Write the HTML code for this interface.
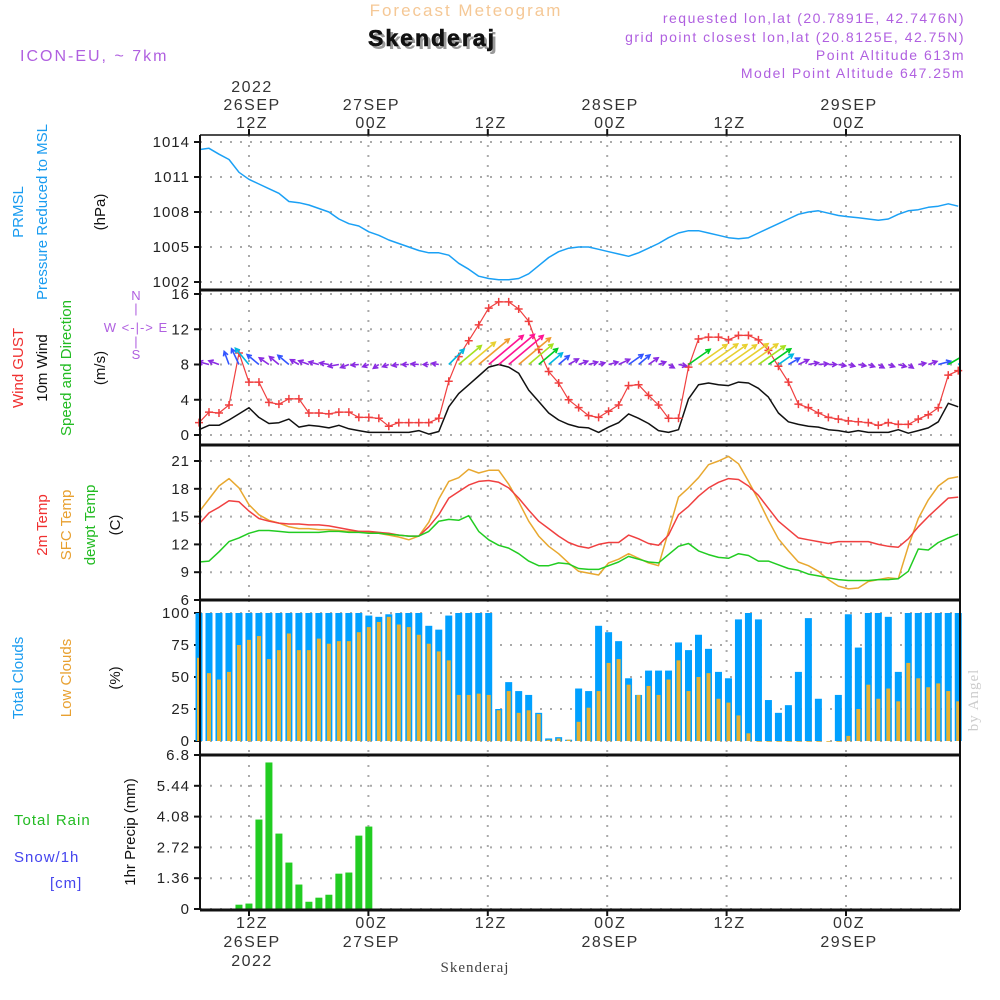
<!DOCTYPE html>
<html><head><meta charset="utf-8"><title>Skenderaj Meteogram</title>
<style>
html,body{margin:0;padding:0;background:#fff;}
svg{display:block;font-family:"Liberation Sans",sans-serif;}
</style></head>
<body>
<svg id="chart" width="1000" height="1000" viewBox="0 0 1000 1000" xmlns="http://www.w3.org/2000/svg">
  <defs>
    <clipPath id="windclip"><rect x="200" y="290" width="760" height="155"/></clipPath>
  </defs>
  <rect x="0" y="0" width="1000" height="1000" fill="#fff"/>
  <text x="466" y="16" text-anchor="middle" font-size="17" letter-spacing="2" fill="#f5c896">Forecast Meteogram</text>
  <text x="435" y="49" text-anchor="middle" font-size="23" font-weight="bold" letter-spacing="2" fill="#999">Skenderaj</text>
  <text x="432" y="46" text-anchor="middle" font-size="23" font-weight="bold" letter-spacing="2" fill="#111" stroke="#111" stroke-width="0.6">Skenderaj</text>
  <text x="20" y="61" font-size="16" letter-spacing="2" fill="#b060e0">ICON-EU, ~ 7km</text>
  <g font-size="14" letter-spacing="1.5" fill="#b060e0" text-anchor="end">
    <text x="965" y="23">requested lon,lat (20.7891E, 42.7476N)</text>
    <text x="965" y="42">grid point closest lon,lat (20.8125E, 42.75N)</text>
    <text x="965" y="60">Point Altitude 613m</text>
    <text x="965" y="78">Model Point Altitude 647.25m</text>
  </g>
  <text x="978" y="700" font-family="Liberation Serif,serif" font-size="15" fill="#ccc" transform="rotate(-90 978 700)" text-anchor="middle" letter-spacing="1">by Angel</text>
  <text x="475" y="972" text-anchor="middle" font-family="Liberation Serif,serif" font-size="15" letter-spacing="1" fill="#444">Skenderaj</text>

  <g font-size="15">
    <text transform="translate(23,212) rotate(-90)" text-anchor="middle" fill="#1a9cf0">PRMSL</text>
    <text transform="translate(47,212) rotate(-90)" text-anchor="middle" fill="#1a9cf0">Pressure Reduced to MSL</text>
    <text transform="translate(105,212) rotate(-90)" text-anchor="middle" fill="#111">(hPa)</text>
    <text transform="translate(23,368) rotate(-90)" text-anchor="middle" fill="#f03030">Wind GUST</text>
    <text transform="translate(47,368) rotate(-90)" text-anchor="middle" fill="#111">10m Wind</text>
    <text transform="translate(71,368) rotate(-90)" text-anchor="middle" fill="#22bb22">Speed and Direction</text>
    <text transform="translate(105,368) rotate(-90)" text-anchor="middle" fill="#111">(m/s)</text>
    <text transform="translate(47,525) rotate(-90)" text-anchor="middle" fill="#f03030">2m Temp</text>
    <text transform="translate(71,525) rotate(-90)" text-anchor="middle" fill="#e8a030">SFC Temp</text>
    <text transform="translate(95,525) rotate(-90)" text-anchor="middle" fill="#22bb22">dewpt Temp</text>
    <text transform="translate(120,525) rotate(-90)" text-anchor="middle" fill="#111">(C)</text>
    <text transform="translate(23,678) rotate(-90)" text-anchor="middle" fill="#1a9cf0">Total Clouds</text>
    <text transform="translate(71,678) rotate(-90)" text-anchor="middle" fill="#e8a030">Low Clouds</text>
    <text transform="translate(120,678) rotate(-90)" text-anchor="middle" fill="#111">(%)</text>
    <text transform="translate(135,832) rotate(-90)" text-anchor="middle" fill="#111">1hr Precip (mm)</text>
    <text x="14" y="825" fill="#22bb22" letter-spacing="1">Total  Rain</text>
    <text x="14" y="862" fill="#4444ee" letter-spacing="1">Snow/1h</text>
    <text x="50" y="888" fill="#4444ee" letter-spacing="1">[cm]</text>
  </g>
  <g font-size="13" fill="#b060e0" text-anchor="middle">
    <text x="136" y="300">N</text>
    <text x="136" y="313">|</text>
    <text x="136" y="332" letter-spacing="1">W &lt;-|-&gt; E</text>
    <text x="136" y="346">|</text>
    <text x="136" y="359">S</text>
  </g>
  <g id="plot"></g>
</svg>
<script>
const pressure = [1013.35,1013.46,1012.95,1012.5,1011.4,1010.8,1010.4,1010.0,1009.6,1008.9,1008.8,1008.6,1008.3,1008.0,1007.4,1007.0,1006.8,1006.3,1006.0,1005.6,1005.3,1005.0,1004.7,1004.5,1004.5,1004.3,1003.6,1003.1,1002.5,1002.3,1002.2,1002.2,1002.3,1002.7,1003.4,1004.1,1004.6,1004.9,1005.0,1005.0,1004.8,1004.6,1004.4,1004.2,1004.5,1004.9,1005.3,1005.8,1006.2,1006.4,1006.4,1006.2,1006.0,1005.8,1005.7,1005.8,1006.2,1006.6,1007.0,1007.4,1007.8,1008.0,1008.1,1007.9,1007.7,1007.6,1007.5,1007.4,1007.3,1007.4,1007.8,1008.1,1008.2,1008.4,1008.5,1008.7,1008.5];
const windGust = [1.4,2.6,2.5,3.4,9.3,6.0,6.0,3.7,3.5,4.1,4.1,2.5,2.5,2.4,2.6,2.6,2.0,2.0,1.9,1.0,1.4,1.4,1.4,1.4,1.9,6.1,8.9,10.7,12.5,14.4,15.1,15.1,14.3,12.9,9.7,7.2,5.9,4.0,3.1,2.2,2.0,2.7,3.4,5.6,5.7,4.5,3.4,1.9,1.9,7.7,10.9,11.1,11.1,10.8,11.3,11.3,10.8,9.6,7.8,6.0,3.5,3.1,2.5,2.0,1.8,1.6,1.5,1.4,1.1,1.4,1.2,1.2,1.8,2.3,3.1,6.8,7.3];
const wind10m = [0.6,1.1,1.1,1.7,2.4,3.1,2.0,1.3,1.4,1.8,0.9,1.1,1.0,0.8,1.1,0.7,0.5,0.3,0.3,0.3,0.3,0.3,0.5,0.1,0.4,3.2,4.7,5.7,6.7,7.7,8.0,7.7,7.0,5.1,3.8,2.5,1.7,1.2,0.9,0.8,0.3,0.9,1.4,2.4,1.9,1.3,0.5,0.3,0.6,4.1,5.7,5.9,5.7,5.6,6.0,5.9,5.3,4.3,2.5,1.5,1.2,1.0,0.9,0.6,0.5,0.3,0.5,0.3,0.3,0.3,0.6,0.2,0.5,0.8,1.5,3.6,3.2];
const windDir = [165,165,160,110,115,130,140,145,140,140,150,160,165,170,190,200,185,200,215,200,190,180,175,180,170,45,40,40,40,40,40,40,40,40,40,40,40,30,20,15,15,15,25,35,40,35,20,-30,-10,35,35,35,35,35,35,35,35,35,35,30,25,10,5,0,-10,-15,-10,-20,-30,-20,-15,-35,10,20,15,30,30];
const temp2m = [14.2,15.4,16.0,16.7,16.6,15.6,14.8,14.5,14.3,14.2,14.2,14.1,14.1,14.0,13.8,13.6,13.4,13.4,13.3,13.2,13.0,12.9,12.9,13.9,15.2,17.0,17.7,18.4,18.8,18.9,18.7,18.1,17.0,15.7,14.5,13.7,12.9,12.2,11.8,11.6,12.0,12.2,12.2,13.0,12.6,12.1,11.9,13.0,15.2,16.1,17.2,18.1,18.7,19.1,19.0,18.3,17.3,15.9,14.5,13.6,12.7,12.5,12.3,12.1,12.3,12.3,12.3,12.3,12.0,11.8,11.7,12.6,13.9,15.0,16.0,17.0,17.1];
const tempSfc = [15.5,16.9,18.3,19.1,18.1,16.3,15.2,14.6,14.3,13.9,13.7,13.7,13.6,13.6,13.5,13.4,13.4,13.3,13.2,13.0,12.8,12.5,12.9,14.4,16.9,18.8,19.2,20.1,19.7,20.0,20.0,18.5,16.6,14.5,12.9,11.8,11.0,10.0,9.1,8.9,8.7,10.0,10.4,11.0,10.5,10.0,9.7,13.4,17.1,18.1,19.2,20.6,21.0,21.5,20.7,18.8,16.8,14.6,12.6,11.3,10.1,9.7,9.1,8.2,7.5,7.2,7.3,8.0,8.2,8.4,8.3,11.8,14.8,16.8,18.3,19.1,19.3];
const dewpt = [10.1,10.2,11.2,12.3,12.7,13.2,13.5,13.5,13.4,13.3,13.3,13.3,13.3,13.4,13.4,13.3,13.3,13.2,13.2,13.1,13.0,12.9,12.9,13.4,14.5,14.7,14.6,15.1,13.4,12.5,11.9,11.6,11.0,10.2,9.7,9.7,10.0,9.9,9.4,9.3,9.3,9.7,10.1,10.7,10.4,10.1,10.0,10.9,11.8,12.1,11.3,10.9,10.6,10.5,11.0,10.8,10.2,10.2,9.8,9.4,9.2,8.8,8.6,8.4,8.2,8.1,8.1,8.1,8.2,8.2,8.3,9.1,11.5,11.4,12.2,12.7,13.1];
const totalClouds = [100,100,100,100,100,100,100,100,100,100,100,100,100,100,100,100,100,98,97,99,100,100,100,90,87,98,100,100,100,100,25,46,39,36,22,2,3,1,41,39,90,85,78,49,36,55,55,55,77,71,83,72,54,49,95,100,95,32,22,28,54,96,33,0,36,99,73,100,100,97,54,100,100,100,100,100,100];
const lowClouds = [65,53,48,54,75,79,82,64,71,84,71,71,80,76,78,78,85,89,93,97,91,89,83,76,70,63,36,36,37,36,24,39,22,24,21,1,2,1,15,26,39,61,64,44,36,43,36,48,63,39,50,53,33,30,20,6,0,0,0,0,0,0,0,0,0,4,25,44,33,41,31,61,49,42,45,39,31];
const precip = [0,0,0,0,0.19,0.24,3.95,6.47,3.33,2.05,1.08,0.32,0.50,0.63,1.56,1.61,3.24,3.64,0,0,0,0,0,0,0,0,0,0,0,0,0,0,0,0,0,0,0,0,0,0,0,0,0,0,0,0,0,0,0,0,0,0,0,0,0,0,0,0,0,0,0,0,0,0,0,0,0,0,0,0,0,0,0,0,0,0,0];
const pressureTicks = [1002,1005,1008,1011,1014];
const windTicks = [0,4,8,12,16];
const tempTicks = [6,9,12,15,18,21];
const cloudTicks = [0,25,50,75,100];
const precipTicks = [0,1.36,2.72,4.08,5.44,6.8];
const timeTicksHours = [12,24,36,48,60,72];
const topLabels = [["2022","26SEP","12Z"],["","27SEP","00Z"],["","","12Z"],["","28SEP","00Z"],["","","12Z"],["","29SEP","00Z"]];
const bottomLabels = [["12Z","26SEP","2022"],["00Z","27SEP",""],["12Z","",""],["00Z","28SEP",""],["12Z","",""],["00Z","29SEP",""]];

const NS = "http://www.w3.org/2000/svg";
const plot = document.getElementById('plot');
const X0 = 200, X1 = 960;
function xi(i){ return 199 + i*9.99; }
function xt(h){ return 249 + (h-12)*9.95; }
function lin(vMin,vMax,yMin,yMax){ return v => yMin + (v-vMin)*(yMax-yMin)/(vMax-vMin); }
const panels = {
  pres:{top:135,bot:290,y:lin(1002,1014,282,142)},
  wind:{top:290,bot:445,y:lin(0,16,435,294)},
  temp:{top:445,bot:600,y:lin(6,21,600,461)},
  cloud:{top:600,bot:755,y:lin(0,100,741,613)},
  prec:{top:755,bot:910,y:lin(0,6.8,909,755)}
};
function mk(tag, attrs, parent){
  const e = document.createElementNS(NS, tag);
  for (const k in attrs) e.setAttribute(k, attrs[k]);
  (parent||plot).appendChild(e);
  return e;
}
function fmt(v){ return (Math.round(v*100)/100).toString(); }

function drawAxis(p, ticks, name){
  const g = mk('g', {});
  
  
  ticks.forEach(t => {
    const y = p.y(t);
    const gl = mk('line', {x1:X0, x2:X1, y1:y, y2:y, stroke:'#aaa', 'stroke-width':2, 'stroke-dasharray':'2,8'}, g);
    
    
    const tk = mk('line', {x1:X0-6, x2:X0, y1:y, y2:y, stroke:'#111', 'stroke-width':2}, g);
    
    
    const tx = mk('text', {x:X0-10, y:y+5, 'text-anchor':'end', 'font-size':15, 'letter-spacing':1, fill:'#222'}, g);
    
    
    tx.textContent = fmt(t);
  });
  timeTicksHours.forEach(h => {
    const vl = mk('line', {x1:xt(h), x2:xt(h), y1:p.top, y2:p.bot, stroke:'#aaa', 'stroke-width':2, 'stroke-dasharray':'2,8'}, g);
    
    
  });
}
drawAxis(panels.pres, pressureTicks, 'pressure');
drawAxis(panels.wind, windTicks, 'wind');
drawAxis(panels.temp, tempTicks, 'temperature');
drawAxis(panels.cloud, cloudTicks, 'cloud');
drawAxis(panels.prec, precipTicks, 'precip');

function line(arr, p, color, name, w){
  const pts = arr.map((v,i) => xi(i).toFixed(1) + ',' + p.y(v).toFixed(1)).join(' ');
  const pl = mk('polyline', {points:pts, fill:'none', stroke:color, 'stroke-width':w||1.5, 'stroke-linejoin':'round'});
  
  
  return pl;
}
const cg = mk('g', {});


totalClouds.forEach((v,i) => {
  const y = panels.cloud.y(v), y0 = panels.cloud.y(0);
  const r = mk('rect', {x:xi(i)-3.5, y:y, width:7, height:Math.max(0,y0-y), fill:'#00a0ff'}, cg);
  
  
});
lowClouds.forEach((v,i) => {
  const y = panels.cloud.y(v), y0 = panels.cloud.y(0);
  const r = mk('rect', {x:xi(i)-2, y:y, width:4, height:Math.max(0.8,y0-y), fill:'#e8b030'}, cg);
  
  
});
const pg = mk('g', {});


precip.forEach((v,i) => {
  if (v <= 0) return;
  const y = panels.prec.y(v), y0 = panels.prec.y(0);
  const r = mk('rect', {x:xi(i)-3.5, y:y, width:7, height:y0-y, fill:'#22cc22'}, pg);
  
  
});
line(pressure, panels.pres, '#1aa0f5', 'pressure-line', 1.5);
line(tempSfc, panels.temp, '#e8a830', 'sfc-temp-line', 1.5);
line(temp2m, panels.temp, '#f04040', '2m-temp-line', 1.5);
line(dewpt, panels.temp, '#22cc22', 'dewpt-line', 1.5);
line(wind10m, panels.wind, '#111', 'wind-10m-line', 1.5);
line(windGust, panels.wind, '#f04040', 'wind-gust-line', 1.2);
const gm = mk('g', {stroke:'#f04040', 'stroke-width':1.5});


windGust.forEach((v,i) => {
  const x = xi(i), y = panels.wind.y(v);
  const m = mk('path', {d:`M${x-4},${y}H${x+4}M${x},${y-4}V${y+4}`}, gm);
  
  
});
function windColor(s){
  if (s < 1.5) return '#8a2be2';
  if (s < 2.5) return '#3355ff';
  if (s < 3.5) return '#00b8e0';
  if (s < 4.5) return '#00cc22';
  if (s < 5.5) return '#a8e020';
  if (s < 6.5) return '#e8d030';
  if (s < 7.5) return '#f09a30';
  return '#ff1493';
}
const ag = mk('g', {'clip-path':'url(#windclip)'});


windDir.forEach((d,i) => {
  const s = wind10m[i];
  const L = 5 + s*5.2;
  const a = d*Math.PI/180;
  const x0 = xi(i), y0 = panels.wind.y(8);
  const x1 = x0 + L*Math.cos(a), y1 = y0 - L*Math.sin(a);
  const h = 5, b = 0.5;
  const hx1 = x1 - h*Math.cos(a-b), hy1 = y1 + h*Math.sin(a-b);
  const hx2 = x1 - h*Math.cos(a+b), hy2 = y1 + h*Math.sin(a+b);
  const c = windColor(s);
  const ar = mk('path', {d:`M${x0.toFixed(1)},${y0.toFixed(1)}L${x1.toFixed(1)},${y1.toFixed(1)}M${hx1.toFixed(1)},${hy1.toFixed(1)}L${x1.toFixed(1)},${y1.toFixed(1)}L${hx2.toFixed(1)},${hy2.toFixed(1)}`, stroke:c, 'stroke-width':1.6, fill:'none'}, ag);
  
  
});

const fg = mk('g', {stroke:'#111', fill:'none'});


const lft = mk('line', {x1:X0, x2:X0, y1:135, y2:910, 'stroke-width':2}, fg);


const rgt = mk('line', {x1:X1, x2:X1, y1:135, y2:910, 'stroke-width':2}, fg);


[135,290,445,600,755,910].forEach(y => {
  const l = mk('line', {x1:X0, x2:X1, y1:y, y2:y, 'stroke-width':y===135?1.5:3}, fg);
  
  
});
timeTicksHours.forEach(h => {
  const t1 = mk('line', {x1:xt(h), x2:xt(h), y1:129, y2:135, 'stroke-width':2}, fg);
  
  
  const t2 = mk('line', {x1:xt(h), x2:xt(h), y1:910, y2:916, 'stroke-width':2}, fg);
  
  
});

timeTicksHours.forEach((h,k) => {
  const x = xt(h) + 3;
  topLabels[k].forEach((s,j) => {
    if (!s) return;
    const t = mk('text', {x:x, y:92+j*18, 'text-anchor':'middle', 'font-size':16, 'letter-spacing':1.5, fill:'#333'});
    
    
    t.textContent = s;
  });
  bottomLabels[k].forEach((s,j) => {
    if (!s) return;
    const t = mk('text', {x:x, y:928+j*19, 'text-anchor':'middle', 'font-size':16, 'letter-spacing':1.5, fill:'#333'});
    
    
    t.textContent = s;
  });
});
</script>
</body></html>
